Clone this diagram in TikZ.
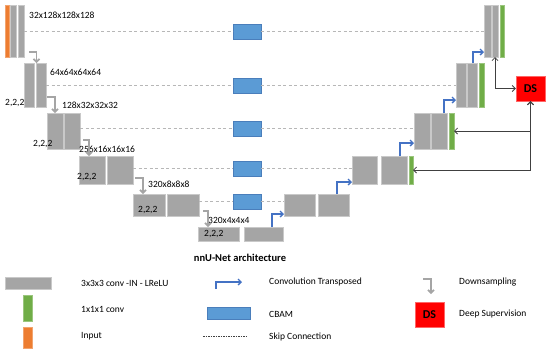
\documentclass[tikz,border=0pt]{standalone}
\usepackage{fontspec}
\setmainfont{Carlito}
\usetikzlibrary{arrows.meta}
\definecolor{convgray}{HTML}{A5A5A5}
\definecolor{convgreen}{HTML}{70AD47}
\definecolor{inorange}{HTML}{ED7D31}
\definecolor{cbamblue}{HTML}{5B9BD5}
\definecolor{cbamedge}{HTML}{4A7EBB}
\definecolor{upblue}{HTML}{4472C4}
\definecolor{dsred}{HTML}{FF0000}
\definecolor{linkgray}{HTML}{404040}

\begin{document}
\begin{tikzpicture}[x=1pt, y=-1pt, font=\fontsize{9.5}{11}\selectfont,
    >={Straight Barb[length=3pt,width=6pt]},
    blk/.style 2 args={anchor=north west, inner sep=0pt, outer sep=0pt,
      minimum width=#1, minimum height=#2},
    conv/.style 2 args={blk={#1}{#2}, fill=convgray, draw=convgray!60!white, line width=0.4pt},
    one/.style 2 args={blk={#1}{#2}, fill=convgreen, draw=convgreen!70!white, line width=0.4pt},
    inp/.style 2 args={blk={#1}{#2}, fill=inorange, draw=inorange!70!white, line width=0.4pt},
    cbam/.style={inner sep=0pt, outer sep=0pt, minimum width=28pt, minimum height=15pt,
      fill=cbamblue, draw=cbamedge, line width=0.6pt},
    ds/.style={inner sep=0pt, minimum width=29pt, minimum height=25pt, fill=dsred,
      draw=red!60!white, line width=0.4pt, font=\fontsize{12}{14}\selectfont\bfseries},
    skip/.style={draw=convgray!80!white, line width=0.8pt, dash pattern=on 3pt off 2.5pt},
    down/.style={->, draw=convgray, line width=1.6pt},
    up/.style={->, draw=upblue, line width=1.4pt},
    link/.style={<->, draw=linkgray, line width=0.8pt},
    lbl/.style={anchor=west, inner sep=0pt}]
  \useasboundingbox (0,0) rectangle (550,354);

  \node[inp={4}{52}] (I0) at (5,5) {};
  \node[conv={6}{52}] (L0a) at (10.5,5) {};
  \node[conv={6}{52}] (L0b) at (18,5) {};
  \node[conv={7}{52}] (R0a) at (484,5) {};
  \node[conv={6}{52}] (R0b) at (492,5) {};
  \node[one={4}{52}] (G0) at (500,5) {};

  \node[conv={10}{44}] (L1a) at (24,63) {};
  \node[conv={10}{44}] (L1b) at (36,63) {};
  \node[conv={10}{44}] (R1a) at (456,63) {};
  \node[conv={10}{44}] (R1b) at (467,63) {};
  \node[one={5}{44}] (G1) at (479,63) {};

  \node[conv={16}{36}] (L2a) at (47,113) {};
  \node[conv={16}{36}] (L2b) at (64,113) {};
  \node[conv={16}{36}] (R2a) at (414,113) {};
  \node[conv={16}{36}] (R2b) at (431,113) {};
  \node[one={5}{36}] (G2) at (449,113) {};

  \node[conv={26}{28}] (L3a) at (79,156) {};
  \node[conv={26}{28}] (L3b) at (107,156) {};
  \node[conv={25}{28}] (R3a) at (352,156) {};
  \node[conv={26}{28}] (R3b) at (381,156) {};
  \node[one={4}{28}] (G3) at (409,156) {};

  \node[conv={32}{22}] (L4a) at (133,194) {};
  \node[conv={32}{22}] (L4b) at (167,194) {};
  \node[conv={31}{22}] (R4a) at (284,194) {};
  \node[conv={31}{22}] (R4b) at (318,194) {};

  \node[conv={41}{14}] (L5a) at (198,227) {};
  \node[conv={39}{14}] (L5b) at (244,227) {};

  \node[cbam] (C0) at (247,31.5) {};
  \node[cbam] (C1) at (247,85.5) {};
  \node[cbam] (C2) at (247,128.5) {};
  \node[cbam] (C3) at (247,168.5) {};
  \node[cbam] (C4) at (247,201.5) {};

  \draw[skip] (L0b.east |- C0.west) -- (C0.west) (C0.east) -- (R0a.west |- C0.east);
  \draw[skip] (L1b.east |- C1.west) -- (C1.west) (C1.east) -- (R1a.west |- C1.east);
  \draw[skip] (L2b.east |- C2.west) -- (C2.west) (C2.east) -- (R2a.west |- C2.east);
  \draw[skip] (L3b.east |- C3.west) -- (C3.west) (C3.east) -- (R3a.west |- C3.east);
  \draw[skip] (L4b.east |- C4.west) -- (C4.west) (C4.east) -- (R4a.west |- C4.east);

  \node[lbl] (s0) at (29,15) {32x128x128x128};
  \node[lbl] (s1) at (50,72) {64x64x64x64};
  \node[lbl] (s2) at (62,105) {128x32x32x32};
  \node[lbl] (s3) at (79,149) {256x16x16x16};
  \node[lbl] (s4) at (148,184) {320x8x8x8};
  \node[lbl] (s5) at (208,220) {320x4x4x4};

  \node[lbl] (k1) at (5,103) {2,2,2};
  \node[lbl] (k2) at (33,144) {2,2,2};
  \node[lbl] (k3) at (77,177) {2,2,2};
  \node[lbl] (k4) at (138,210) {2,2,2};
  \node[lbl] (k5) at (204,234) {2,2,2};

  \coordinate (d0) at (29,52);
  \coordinate (d1) at (47,97);
  \coordinate (d2) at (83,140);
  \coordinate (d3) at (135,178);
  \coordinate (d4) at (203,211);
  \draw[down] (d0) -| ([xshift=0.5pt]L1b.north west);
  \draw[down] (d1) -| (L2a.north);
  \draw[down] (d2) -| ([xshift=-3pt]L3a.north);
  \draw[down] (d3) -| ([xshift=-6pt]L4a.north);
  \draw[down] (d4) -| ([xshift=-10.5pt]L5a.north);

  \draw[up] ([xshift=-11pt]L5b.north east) |- ([yshift=2pt]R4a.south west);
  \draw[up] ([xshift=-12pt]R4b.north east) |- ([yshift=2pt]R3a.south west);
  \draw[up] ([xshift=-7pt]R3b.north east) |- ([yshift=6pt]R2a.south west);
  \draw[up] ([xshift=-3pt]R2b.north east) |- ([yshift=7pt]R1a.south west);
  \draw[up] ([xshift=-4pt]R1b.north east) |- ([yshift=5pt]R0a.south west);

  \node[ds] (DS) at (530.5,88.5) {DS};
  \draw[link] (R0b.south) |- (DS.west);
  \draw[link] (DS.south) |- (G2.east);
  \draw[link] (DS.south) |- (G3.east);

  \node[font=\fontsize{10.5}{12}\selectfont\bfseries] (title) at (240,258) {nnU-Net architecture};

  \node[conv={46}{12}] (lgConv) at (5,277) {};
  \node[one={9}{26}] (lgOne) at (23,295) {};
  \node[inp={9}{21}] (lgIn) at (23,327) {};
  \node[lbl] (lgConvT) at (81,283) {3x3x3 conv -IN - LReLU};
  \node[lbl] (lgOneT) at (81,309) {1x1x1 conv};
  \node[lbl] (lgInT) at (81,336) {Input};

  \coordinate (lgUpA) at (216,289);
  \coordinate (lgUpB) at (242,282);
  \draw[up] (lgUpA) |- (lgUpB);
  \node[cbam, minimum width=43pt, minimum height=12pt] (lgCbam) at (228.5,313) {};
  \coordinate (lgSkA) at (203,336);
  \coordinate (lgSkB) at (248,336);
  \draw[draw=linkgray, line width=0.4pt, dash pattern=on 1.5pt off 1pt] (lgSkA) -- (lgSkB);
  \node[lbl] (lgUpT) at (269,282) {Convolution Transposed};
  \node[lbl] (lgCbamT) at (269,314) {CBAM};
  \node[lbl] (lgSkT) at (269,337) {Skip Connection};

  \coordinate (lgDnA) at (423,279);
  \coordinate (lgDnB) at (431,294);
  \draw[down] (lgDnA) -| (lgDnB);
  \node[ds] (lgDS) at (429.5,314.5) {DS};
  \node[lbl] (lgDnT) at (459,282) {Downsampling};
  \node[lbl] (lgDST) at (459,314) {Deep Supervision};
\end{tikzpicture}
\end{document}
